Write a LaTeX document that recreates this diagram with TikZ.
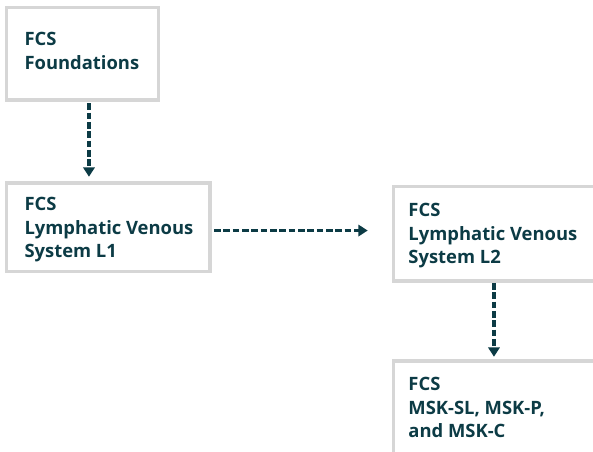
\documentclass[tikz,border=0pt]{standalone}
\usepackage{fontspec}
\setmainfont{Open Sans}
\usetikzlibrary{arrows.meta}

\definecolor{boxgray}{RGB}{214,214,214}
\definecolor{darkteal}{RGB}{12,59,69}

\tikzset{every picture/.style={line width=0.75pt}}
\tikzset{
	coursebox/.style={draw=boxgray, line width=2.5pt, rectangle, inner sep=0pt, outer sep=0pt, anchor=north west},
	boxtext/.style={anchor=north west, inner sep=0pt, align=left, text=darkteal,
		font=\fontsize{13.8pt}{17.6pt}\selectfont\bfseries},
	flow/.style={draw=darkteal, line width=2.3pt, dash pattern=on 5pt off 2pt,
		-{Triangle[width=8.5pt,length=7pt]}}}

\begin{document}
\begin{tikzpicture}[x=0.75pt,y=0.75pt,yscale=-1,xscale=1]
	\useasboundingbox (0,0) rectangle (593,451);

	%Shape: Rectangle [box1]
	\node[coursebox, minimum width=113.9pt, minimum height=69.2pt] (box1) at (6.7,7.7) {};
	%Shape: Rectangle [box2]
	\node[coursebox, minimum width=152.5pt, minimum height=66.5pt] (box2) at (6.7,183) {};
	%Shape: Rectangle [box3]
	\node[coursebox, minimum width=187.5pt, minimum height=70.7pt] (box3) at (393.3,186.7) {};
	%Shape: Rectangle [box4]
	\node[coursebox, minimum width=187.5pt, minimum height=90pt] (box4) at (393.3,361) {};

	% Text Node
	\node[boxtext] (txt1) at ([shift={(13pt,18.2pt)}]box1.north west) {FCS\\Foundations};
	% Text Node
	\node[boxtext] (txt2) at ([shift={(13pt,10.5pt)}]box2.north west) {FCS\\Lymphatic Venous\\System L1};
	% Text Node
	\node[boxtext] (txt3) at ([shift={(11pt,12.2pt)}]box3.north west) {FCS\\Lymphatic Venous\\System L2};
	% Text Node
	\node[boxtext] (txt4) at ([shift={(11pt,12pt)}]box4.north west) {FCS\\MSK-SL, MSK-P,\\and MSK-C};

	%Straight Lines [box1 to box2]
	\coordinate (a1) at ([xshift=61.7pt]box1.south west);
	\draw[flow, shorten <=2.5pt, shorten >=4.7pt] (a1) -- (a1 |- box2.north);
	%Straight Lines [box2 to box3]
	\coordinate (a2) at ([yshift=2.4pt]box2.east);
	\draw[flow, shorten <=3pt, shorten >=19.2pt] (a2) -- (a2 -| box3.west);
	%Straight Lines [box3 to box4]
	\coordinate (a3) at ([xshift=75.5pt]box3.south west);
	\draw[flow, shorten <=1.5pt, shorten >=3.2pt] (a3) -- (a3 |- box4.north);
\end{tikzpicture}
\end{document}
